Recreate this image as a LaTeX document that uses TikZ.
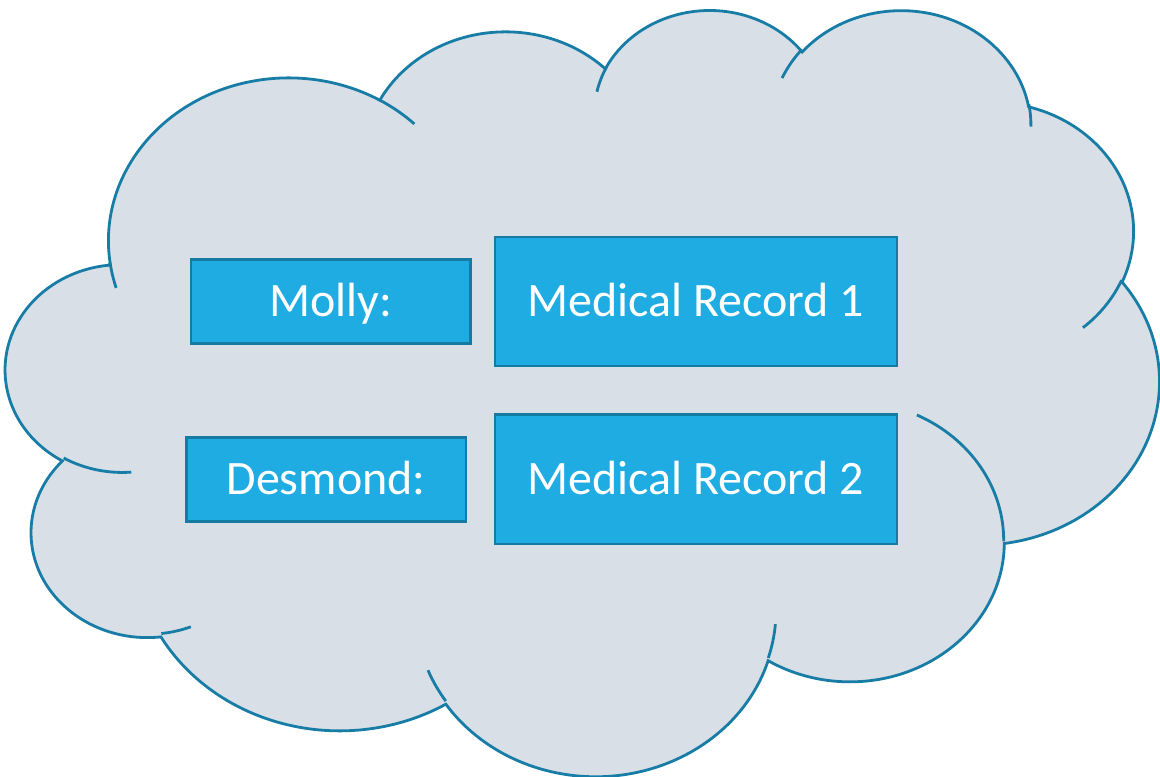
\documentclass[tikz,border=0pt]{standalone}
\usepackage{fontspec}
\setmainfont{Carlito}
\usetikzlibrary{positioning}

\definecolor{cloudfill}{HTML}{D8DFE6}
\definecolor{cloudedge}{HTML}{187DA6}
\definecolor{boxfill}{HTML}{1EACE3}
\definecolor{boxedge}{HTML}{167BA2}

% one bump of the cloud: x radius, y radius, start and sweep (seen angles)
\newcommand{\bump}[4]{%
  arc[x radius=#1, y radius=#2,
      start angle={atan2(#1*sin(#3),#2*cos(#3))},
      delta angle={mod(atan2(#1*sin(#3+#4),#2*cos(#3+#4))-atan2(#1*sin(#3),#2*cos(#3))+720,360)}]}

\tikzset{
  cloudline/.style={draw=cloudedge, line width=2.1pt},
  rec/.style={draw=boxedge, fill=boxfill, line width=1.9pt, text=white,
              inner sep=0pt, outer sep=0pt, font=\fontsize{36}{40}\selectfont,
              text height=23.2pt, text depth=0pt},
  namebox/.style={rec, minimum width=209.6pt, minimum height=63pt},
  recordbox/.style={rec, minimum width=301.2pt, minimum height=97pt},
}

\begin{document}
\begin{tikzpicture}[x=0.75pt, y=-0.75pt]
  \useasboundingbox (0,0) rectangle (1160,777);

  % cloud
  \begin{scope}[shift={(6,8)}, xscale=26.69, yscale=17.73]
    \path[cloudline, fill=cloudfill] (3.900,14.370)
      \bump{6.753}{9.190}{-190.4875}{123.7805}
      \bump{5.333}{7.267}{-144.1024}{89.9452}
      \bump{4.365}{5.945}{-145.8079}{99.7230}
      \bump{4.857}{6.595}{-130.9861}{117.2417}
      \bump{5.333}{7.273}{-78.7089}{109.0269}
      \bump{6.775}{9.220}{-46.2673}{130.2690}
      \bump{5.785}{7.867}{0.6250}{114.0333}
      \bump{6.752}{9.215}{22.4516}{115.1726}
      \bump{7.720}{10.543}{66.2426}{75.7110}
      \bump{4.360}{5.918}{-274.9421}{146.7356}
      \bump{4.345}{5.945}{-246.8285}{152.5189}
      -- cycle;
    % inner bits
    \draw[cloudline] (4.693,26.177) \bump{4.345}{5.945}{86.7420}{26.4295};
    \draw[cloudline] (6.928,34.899) \bump{4.360}{5.918}{73.6105}{11.4475};
    \draw[cloudline] (16.478,39.090) \bump{6.752}{9.215}{137.6242}{14.0811};
    \draw[cloudline] (28.827,34.751) \bump{6.752}{9.215}{6.4533}{15.9984};
    \draw[cloudline] (34.129,22.954) \bump{5.785}{7.867}{-70.2924}{70.9174};
    \draw[cloudline] (41.798,15.354) \bump{5.333}{7.273}{30.3180}{27.7515};
    \draw[cloudline] (38.324,5.426) \bump{4.857}{6.595}{-13.7443}{14.8589};
    \draw[cloudline] (29.078,3.952) \bump{4.857}{6.595}{-149.1815}{18.1954};
    \draw[cloudline] (22.141,4.720) \bump{4.365}{5.945}{-163.4943}{17.6864};
    \draw[cloudline] (14.000,5.192) \bump{6.753}{9.190}{-66.7070}{12.3194};
    \draw[cloudline] (4.127,15.789) \bump{6.753}{9.190}{157.6544}{11.8582};
  \end{scope}

  \node[namebox] (molly) at (330.8,301.5) {Molly:};
  \node[recordbox, right=18.5pt of molly] (rec1) {Medical Record 1};
  \node[recordbox, below=36.3pt of rec1] (rec2) {Medical Record 2};
  \node[namebox, left=22pt of rec2] (desmond) {Desmond:};
\end{tikzpicture}
\end{document}
